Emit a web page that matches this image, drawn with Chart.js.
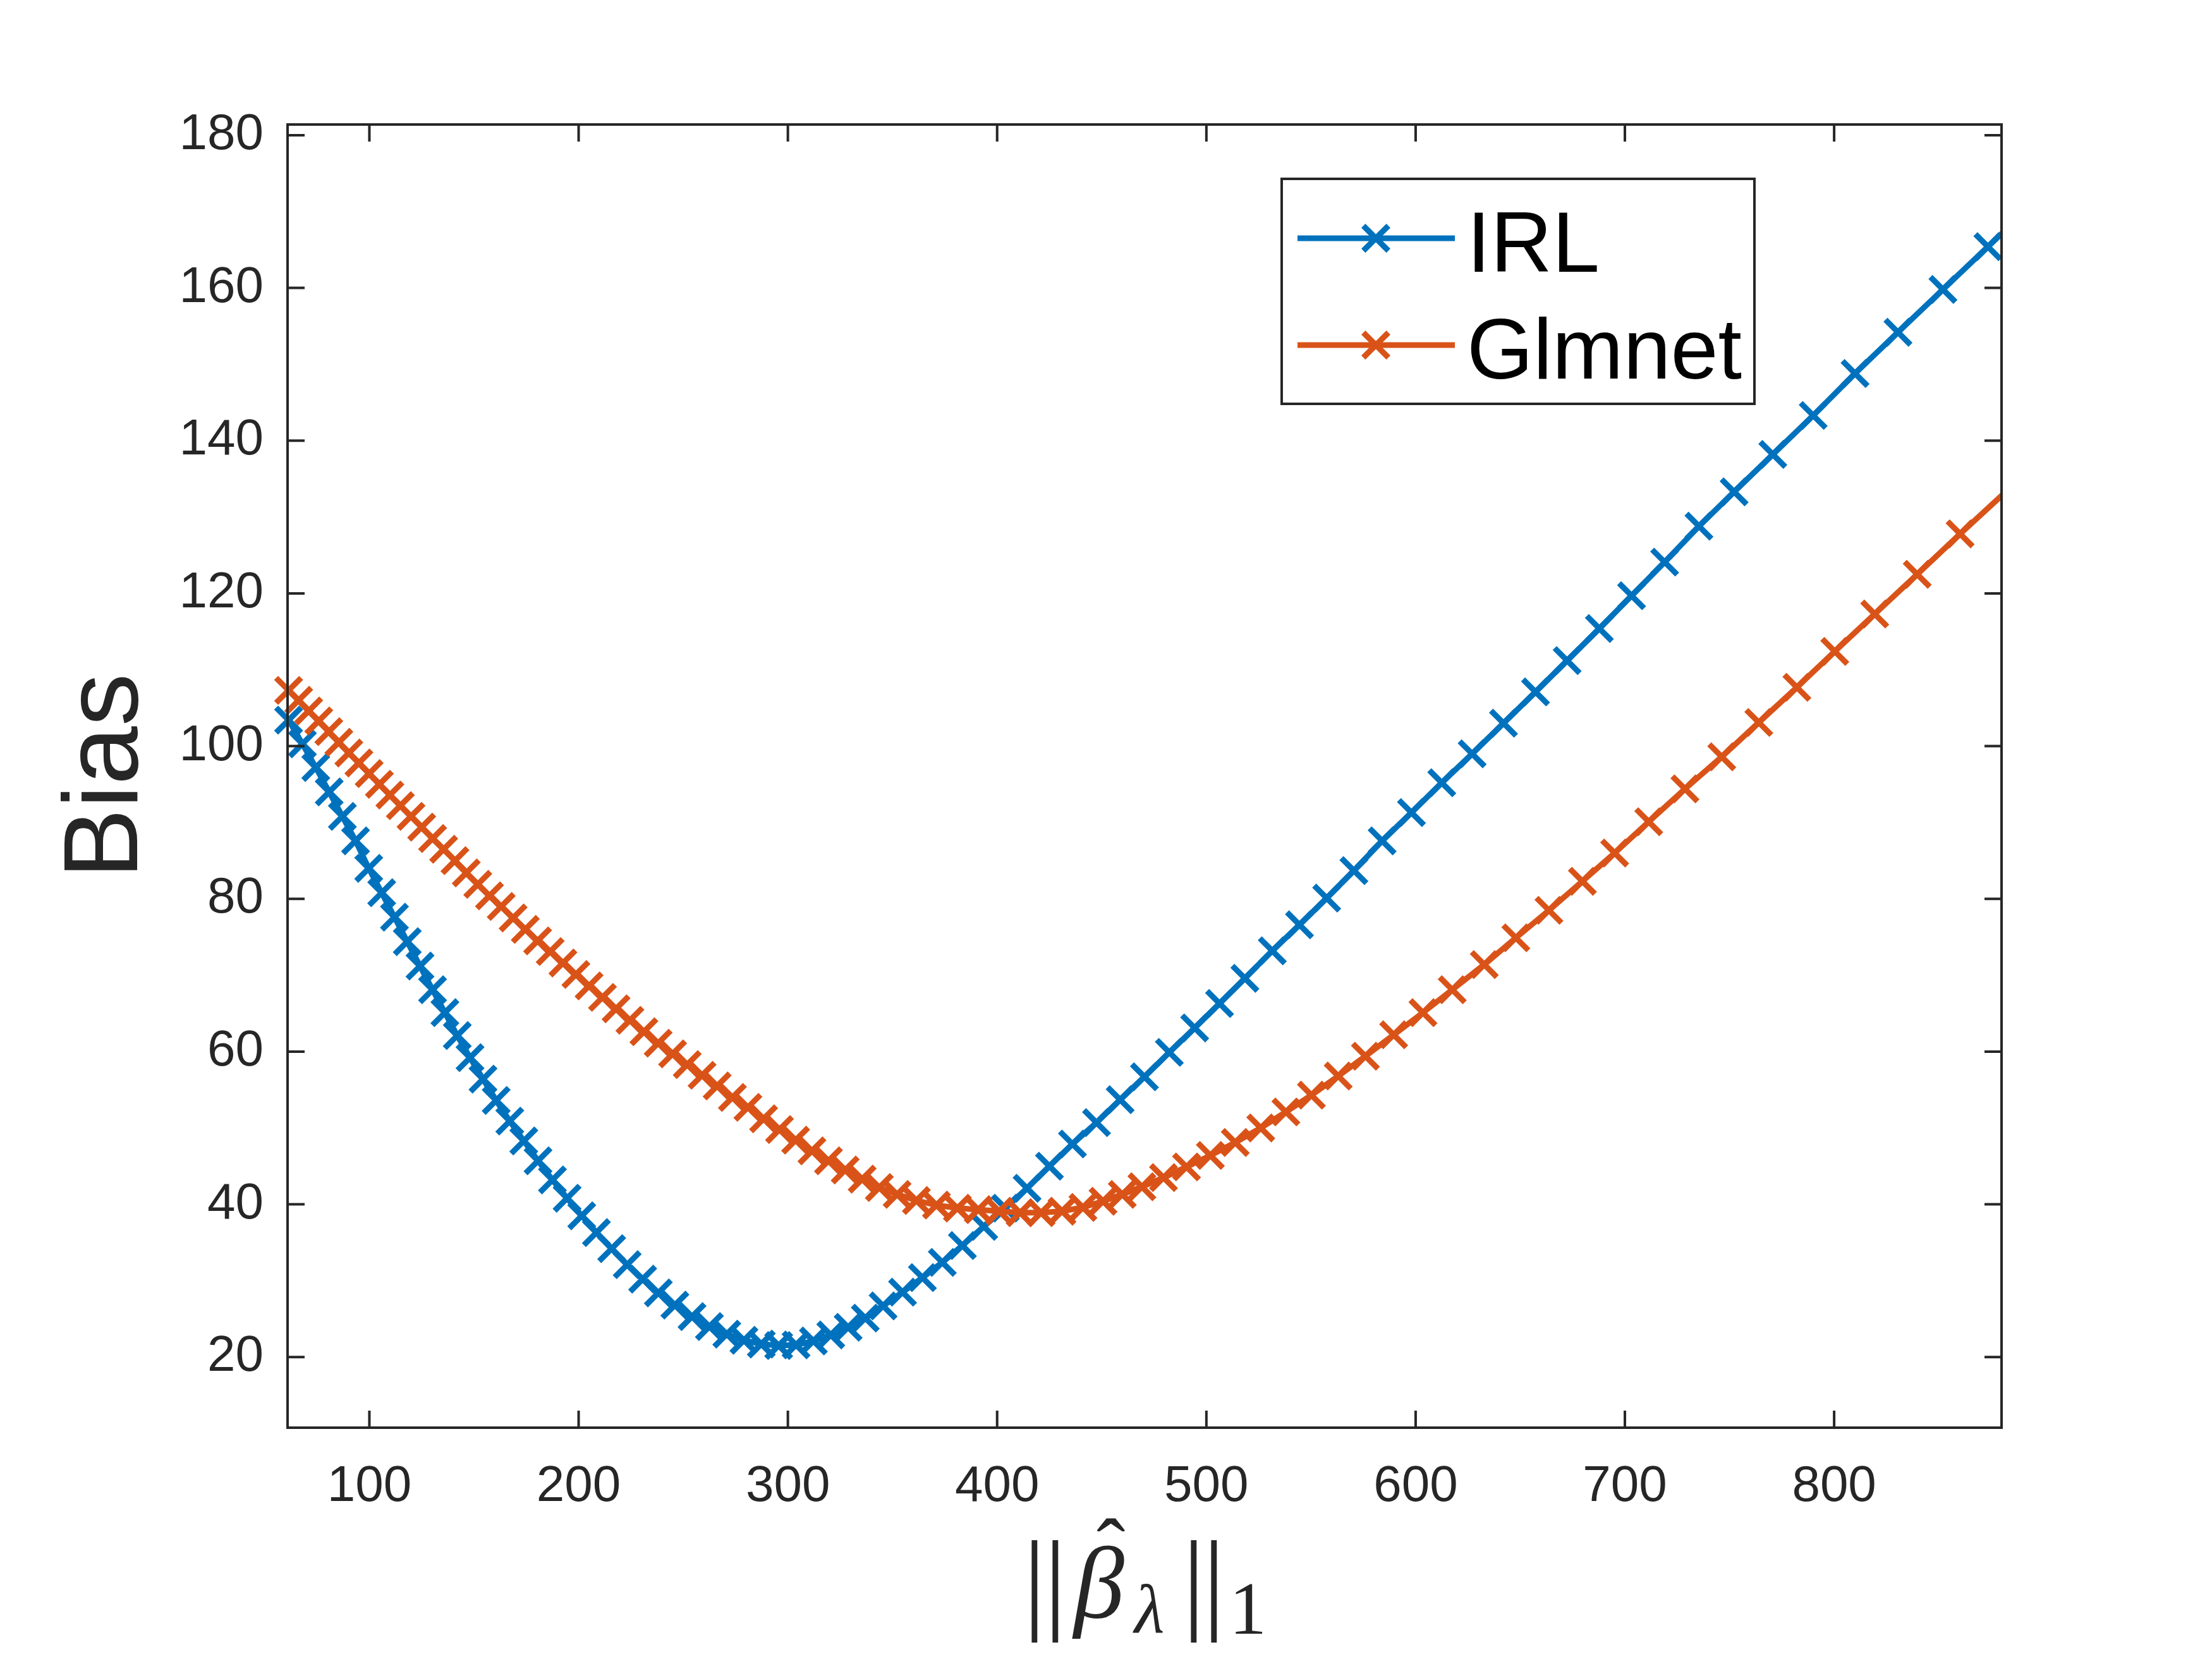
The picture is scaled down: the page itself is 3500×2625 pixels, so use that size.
<!DOCTYPE html>
<html lang="en">
<head>
    <meta charset="UTF-8">
    <title>Bias vs norm</title>
    <style>
        html, body { margin: 0; padding: 0; background: #fff; }
        canvas { display: block; }
    </style>
</head>
<body>
    <canvas id="biasChart" width="3500" height="2625" style="width:3500px;height:2625px"></canvas>
    <script src="https://cdn.jsdelivr.net/npm/chart.js@4.4.1/dist/chart.umd.min.js"></script>
    <script>

        // IRL path: ||beta||_1 and bias
        const irlNorm = [
            61.4, 68.0, 74.4, 80.8, 87.1, 93.4, 99.7, 105.9, 112.0, 118.1,
            124.2, 130.2, 136.1, 142.0, 148.1, 154.3, 160.6, 167.1, 173.8, 180.6,
            187.5, 194.5, 201.5, 208.5, 215.8, 223.2, 230.6, 238.1, 246.0, 254.2,
            262.5, 270.8, 279.0, 287.3, 295.6, 303.9, 312.2, 320.5, 328.8, 337.0,
            345.5, 354.8, 364.3, 373.8, 383.4, 393.6, 403.9, 414.3, 425.0, 436.0,
            447.5, 458.8, 470.4, 482.3, 494.4, 506.3, 518.4, 531.5, 544.5, 557.5,
            570.5, 584.0, 598.0, 612.5, 627.0, 642.0, 657.3, 672.4, 687.8, 703.2,
            719.0, 735.4, 752.2, 770.7, 790.0, 810.0, 830.5, 852.0, 873.5, 895.0
        ];
        const irlBias = [
            103.4, 100.3, 97.2, 94.0, 90.8, 87.6, 84.0, 80.8, 77.6, 74.4,
            71.2, 68.1, 65.1, 62.1, 59.2, 56.4, 53.6, 50.9, 48.3, 45.7,
            43.2, 40.8, 38.5, 36.3, 34.2, 32.1, 30.2, 28.4, 26.8, 25.3,
            24.0, 23.0, 22.2, 21.7, 21.5, 21.6, 22.1, 22.9, 23.9, 25.1,
            26.7, 28.5, 30.4, 32.4, 34.6, 37.1, 39.5, 42.1, 45.0, 47.9,
            50.7, 53.7, 56.7, 59.9, 63.1, 66.3, 69.6, 73.2, 76.6, 80.1,
            83.7, 87.6, 91.3, 95.2, 99.0, 103.0, 107.1, 111.2, 115.4, 119.7,
            124.1, 128.8, 133.3, 138.2, 143.3, 148.8, 154.2, 159.8, 165.4, 171.0
        ];

        // Glmnet path
        const glmNorm = [
            61.4, 66.2, 71.0, 75.8, 80.6, 85.4, 90.2, 95.0, 99.9, 104.8,
            109.8, 114.8, 119.9, 125.0, 130.2, 135.5, 140.9, 146.3, 151.8, 157.4,
            163.0, 168.7, 174.5, 180.4, 186.4, 192.5, 198.7, 205.0, 211.4, 217.9,
            224.5, 231.2, 238.0, 244.9, 251.9, 259.0, 266.2, 273.5, 280.9, 288.4,
            296.0, 303.7, 311.5, 319.4, 327.4, 335.5, 343.7, 352.2, 361.4, 371.0,
            381.0, 391.0, 401.0, 411.0, 421.0, 431.0, 441.0, 450.6, 459.8, 469.2,
            479.5, 490.5, 501.9, 513.8, 526.0, 538.0, 550.2, 563.0, 576.0, 589.5,
            603.5, 617.5, 632.8, 647.9, 663.7, 679.7, 695.1, 711.4, 728.7, 746.3,
            764.0, 782.2, 800.3, 819.4, 839.7, 860.2, 880.8
        ];
        const glmBias = [
            107.3, 106.0, 104.6, 103.3, 101.9, 100.5, 99.1, 97.8, 96.4, 95.0,
            93.6, 92.2, 90.8, 89.4, 87.9, 86.5, 85.0, 83.4, 81.9, 80.4,
            79.0, 77.5, 76.0, 74.5, 73.1, 71.6, 70.1, 68.6, 67.1, 65.6,
            64.1, 62.6, 61.1, 59.7, 58.3, 56.9, 55.5, 54.0, 52.7, 51.2,
            49.8, 48.4, 47.0, 45.7, 44.5, 43.3, 42.2, 41.3, 40.5, 39.9,
            39.5, 39.3, 39.1, 38.9, 38.9, 39.1, 39.6, 40.4, 41.3, 42.3,
            43.5, 44.9, 46.4, 48.1, 50.0, 52.1, 54.3, 56.8, 59.4, 62.2,
            65.1, 68.1, 71.4, 74.9, 78.5, 82.3, 86.0, 90.1, 94.4, 98.6,
            103.1, 107.7, 112.4, 117.3, 122.5, 127.8, 133.0
        ];

        const seriesNames = ['IRL', 'Glmnet'];
        const xTicks = [100, 200, 300, 400, 500, 600, 700, 800];
        const yTicks = [20, 40, 60, 80, 100, 120, 140, 160, 180];

        const X_MIN = 60.9, X_MAX = 880;
        const Y_MIN = 10.75, Y_MAX = 181.4;

        const BLUE = '#0072BD';
        const ORANGE = '#D95319';
        const AXIS = '#262626';
        const LINE_W = 9;
        const MARK_R = 28;
        const MARK_W = 9;
        const SERIF = '"Liberation Serif", serif';

        function toPoints(xs, ys) {
            return xs.map((x, i) => ({ x: x, y: ys[i] }));
        }

        function drawX(ctx, x, y, r) {
            const d = r * Math.SQRT1_2;
            ctx.beginPath();
            ctx.moveTo(x - d, y - d); ctx.lineTo(x + d, y + d);
            ctx.moveTo(x - d, y + d); ctx.lineTo(x + d, y - d);
            ctx.stroke();
        }

        // put a glyph so its ink fills the given box (sized by height, or by width if given)
        function inkText(ctx, text, style, box) {
            ctx.font = style + ' 100px ' + SERIF;
            let m = ctx.measureText(text);
            let size;
            if (box.width) size = 100 * box.width / (m.actualBoundingBoxLeft + m.actualBoundingBoxRight);
            else size = 100 * (box.bottom - box.top) / (m.actualBoundingBoxAscent + m.actualBoundingBoxDescent);
            ctx.font = style + ' ' + size.toFixed(1) + 'px ' + SERIF;
            m = ctx.measureText(text);
            const inkW = m.actualBoundingBoxLeft + m.actualBoundingBoxRight;
            const left = box.left !== undefined ? box.left : box.cx - inkW / 2;
            ctx.fillText(text, left + m.actualBoundingBoxLeft, box.top + m.actualBoundingBoxAscent);
        }

        // box round the axes with inward ticks on all four sides
        const axesBox = {
            id: 'axesBox',
            afterDatasetsDraw(chart) {
                const { ctx, chartArea: a, scales } = chart;
                const tl = 27;
                ctx.save();
                ctx.strokeStyle = AXIS;
                ctx.lineWidth = 4;
                ctx.beginPath();
                xTicks.forEach(v => {
                    const px = scales.x.getPixelForValue(v);
                    ctx.moveTo(px, a.bottom); ctx.lineTo(px, a.bottom - tl);
                    ctx.moveTo(px, a.top); ctx.lineTo(px, a.top + tl);
                });
                yTicks.forEach(v => {
                    const py = scales.y.getPixelForValue(v);
                    ctx.moveTo(a.left, py); ctx.lineTo(a.left + tl, py);
                    ctx.moveTo(a.right, py); ctx.lineTo(a.right - tl, py);
                });
                ctx.stroke();
                ctx.strokeRect(a.left, a.top, a.right - a.left, a.bottom - a.top);
                ctx.restore();
            }
        };

        // MATLAB style legend: line with marker, boxed
        const lineLegend = {
            id: 'lineLegend',
            afterDraw(chart) {
                const { ctx, chartArea: a } = chart;
                const left = a.left + 1573, top = a.top + 86;
                const w = 748, h = 356;
                ctx.save();
                ctx.fillStyle = '#fff';
                ctx.fillRect(left, top, w, h);
                ctx.strokeStyle = AXIS;
                ctx.lineWidth = 4;
                ctx.strokeRect(left, top, w, h);
                const rows = [top + 94, top + 263];
                const cols = [BLUE, ORANGE];
                seriesNames.forEach((name, i) => {
                    const y = rows[i];
                    ctx.strokeStyle = cols[i];
                    ctx.lineWidth = LINE_W;
                    ctx.beginPath();
                    ctx.moveTo(left + 25, y); ctx.lineTo(left + 274, y);
                    ctx.stroke();
                    ctx.lineWidth = MARK_W;
                    drawX(ctx, left + 149, y, MARK_R);
                    ctx.fillStyle = '#000';
                    ctx.font = '135px "Liberation Sans", Arial, sans-serif';
                    ctx.textAlign = 'left';
                    ctx.textBaseline = 'alphabetic';
                    ctx.fillText(name, left + 293, y + 53);
                });
                ctx.restore();
            }
        };

        // x label ||beta-hat_lambda||_1, glyph boxes relative to the plot
        const normLabel = {
            id: 'normLabel',
            afterDraw(chart) {
                const { ctx, chartArea: a } = chart;
                const cx = (a.left + a.right) / 2;
                const b = a.bottom;
                ctx.save();
                ctx.fillStyle = AXIS;
                ctx.textAlign = 'left';
                ctx.textBaseline = 'alphabetic';
                [-174, -141, 78, 110].forEach(dx =>
                    inkText(ctx, '|', 'normal', { cx: cx + dx, top: b + 178, bottom: b + 340 }));
                inkText(ctx, 'β', 'italic', { left: cx - 115, top: b + 186, bottom: b + 332 });
                inkText(ctx, 'ˆ', 'normal', { cx: cx - 53, top: b + 143, width: 45 });
                inkText(ctx, 'λ', 'italic', { left: cx - 19, top: b + 247, bottom: b + 325 });
                inkText(ctx, '1', 'normal', { left: cx + 144, top: b + 247, bottom: b + 325 });
                ctx.restore();
            }
        };

        const hideOutside = c => (c.raw && (c.raw.x > X_MAX || c.raw.x < X_MIN)) ? 0 : MARK_R;

        const ctx = document.getElementById('biasChart').getContext('2d');
        const biasChart = new Chart(ctx, {
            type: 'line',
            data: {
                datasets: [
                    {
                        label: seriesNames[0],
                        data: toPoints(irlNorm, irlBias),
                        borderColor: BLUE,
                        backgroundColor: BLUE,
                        borderWidth: LINE_W,
                        pointStyle: 'crossRot',
                        pointRadius: hideOutside,
                        pointBorderWidth: MARK_W,
                        pointBorderColor: BLUE,
                        pointBackgroundColor: BLUE,
                        tension: 0,
                        order: 1,
                        clip: { left: 60, top: 60, right: 0, bottom: 60 }
                    },
                    {
                        label: seriesNames[1],
                        data: toPoints(glmNorm, glmBias),
                        borderColor: ORANGE,
                        backgroundColor: ORANGE,
                        borderWidth: LINE_W,
                        pointStyle: 'crossRot',
                        pointRadius: hideOutside,
                        pointBorderWidth: MARK_W,
                        pointBorderColor: ORANGE,
                        pointBackgroundColor: ORANGE,
                        tension: 0,
                        order: 0,
                        clip: { left: 60, top: 60, right: 0, bottom: 60 }
                    }
                ]
            },
            options: {
                responsive: false,
                devicePixelRatio: 1,
                animation: false,
                events: [],
                layout: { padding: { left: 0, top: 197, right: 333, bottom: 0 } },
                plugins: {
                    legend: { display: false },
                    tooltip: { enabled: false }
                },
                scales: {
                    x: {
                        type: 'linear',
                        min: X_MIN,
                        max: X_MAX,
                        afterBuildTicks: s => { s.ticks = xTicks.map(v => ({ value: v })); },
                        afterFit: s => { s.height = 366; },
                        grid: { display: false, drawTicks: false },
                        border: { display: false },
                        ticks: {
                            color: AXIS,
                            padding: 46,
                            maxRotation: 0,
                            font: { family: '"Liberation Sans", Arial, sans-serif', size: 80 },
                            callback: v => String(v)
                        }
                    },
                    y: {
                        type: 'linear',
                        min: Y_MIN,
                        max: Y_MAX,
                        afterBuildTicks: s => { s.ticks = yTicks.map(v => ({ value: v })); },
                        afterFit: s => { s.width = 455; },
                        grid: { display: false, drawTicks: false },
                        border: { display: false },
                        ticks: {
                            color: AXIS,
                            padding: 38,
                            font: { family: '"Liberation Sans", Arial, sans-serif', size: 80 },
                            callback: v => String(v)
                        },
                        title: {
                            display: true,
                            text: 'Bias',
                            color: AXIS,
                            padding: { top: 71, bottom: 0 },
                            font: { family: '"Liberation Sans", Arial, sans-serif', size: 167 }
                        }
                    }
                }
            },
            plugins: [axesBox, lineLegend, normLabel]
        });

    </script>
</body>
</html>
